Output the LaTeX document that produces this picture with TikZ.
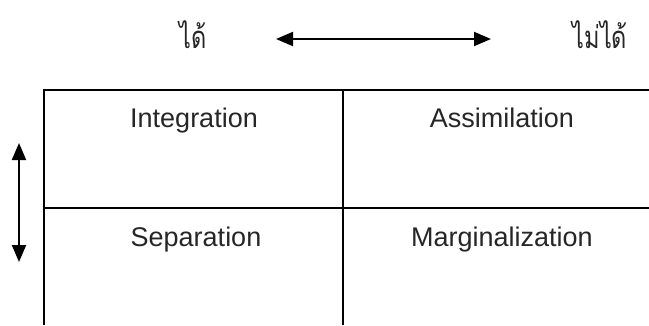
\documentclass[tikz,border=0pt]{standalone}
\usepackage{fontspec}
\setmainfont{Liberation Sans}
\newfontfamily\thaifont[Script=Thai]{Loma}
\usetikzlibrary{arrows.meta}
\definecolor{ink}{HTML}{262626}
\newcommand{\narrowthai}[1]{\scalebox{0.76}[1]{\thaifont #1}}
\begin{document}
\begin{tikzpicture}[x=1pt,y=-1pt,
  gridline/.style={line width=2pt,black},
  axisarrow/.style={line width=2pt,black,{Triangle[length=17pt,width=14pt]}-{Triangle[length=17pt,width=14pt]}},
  celltext/.style={anchor=base,font=\fontsize{27}{31}\selectfont,text=ink,inner sep=0pt},
  thaitext/.style={anchor=base,font=\thaifont\fontsize{31}{35}\selectfont,text=ink,inner sep=0pt}]
  \useasboundingbox (0,0) rectangle (649,325);

  % grid of the four quadrants (open at the bottom and right)
  \draw[gridline] (649,90) -- (44,90) -- (44,325);
  \draw[gridline] (44,208) -- (649,208);
  \draw[gridline] (343,90) -- (343,325);

  % quadrant labels
  \node[celltext] (integ) at (194,127) {Integration};
  \node[celltext] (assim) at (502,127) {Assimilation};
  \node[celltext] (separ) at (196,246) {Separation};
  \node[celltext] (margi) at (502,246) {Marginalization};

  % horizontal axis
  \node[thaitext] (can) at (193,48) {\narrowthai{ได้}};
  \node[thaitext] (cannot) at (600,48) {\narrowthai{ไม่ได้}};
  \coordinate (hl) at (276,39);
  \coordinate (hr) at (491,39);
  \draw[axisarrow] (hl) -- (hr);

  % vertical axis
  \coordinate (vt) at (19,143);
  \coordinate (vb) at (19,262);
  \draw[axisarrow] (vt) -- (vb);
\end{tikzpicture}
\end{document}
